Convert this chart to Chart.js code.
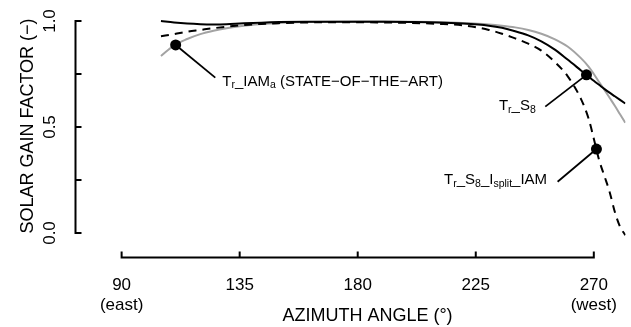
<!DOCTYPE html>
<html>
<head>
<meta charset="utf-8">
<script src="https://cdn.jsdelivr.net/npm/chart.js@4.4.0/dist/chart.umd.min.js"></script>
<style>
    html, body { margin: 0; padding: 0; background: #fff; }
</style>
</head>
<body>
<canvas id="chart_gain" width="631" height="327"></canvas>
<script>
// azimuth angle (deg) and the three solar gain factor curves
const azimuth = [105, 110, 115, 120, 125, 130, 135, 140, 145, 150, 160, 170, 180, 190, 200, 210,
    220, 230, 235, 240, 245, 250, 255, 260, 265, 268, 270, 272, 274, 276, 278, 280, 282];
const trIamA = [0.835, 0.885, 0.915, 0.938, 0.954, 0.966, 0.975, 0.982, 0.987, 0.991, 0.995, 0.997, 0.998, 0.998, 0.997, 0.995,
    0.991, 0.984, 0.978, 0.970, 0.958, 0.940, 0.915, 0.880, 0.826, 0.785, 0.750, 0.712, 0.676, 0.638, 0.600, 0.560, 0.520];
const trS8 = [1.000, 0.993, 0.988, 0.985, 0.984, 0.985, 0.988, 0.991, 0.993, 0.995, 0.996, 0.996, 0.996, 0.996, 0.995, 0.993,
    0.988, 0.978, 0.968, 0.952, 0.932, 0.904, 0.866, 0.818, 0.768, 0.738, 0.718, 0.699, 0.680, 0.662, 0.645, 0.628, 0.611];
const trS8Split = [0.928, 0.938, 0.950, 0.958, 0.966, 0.973, 0.979, 0.984, 0.987, 0.990, 0.993, 0.994, 0.994, 0.993, 0.991, 0.987,
    0.980, 0.958, 0.940, 0.918, 0.893, 0.860, 0.808, 0.740, 0.635, 0.540, 0.445, 0.345, 0.270, 0.195, 0.100, 0.030, -0.010];

// labelled points and where their leader lines end
const markerAz = [110.6, 267.2, 271.0];
const markerVal = [0.887, 0.746, 0.396];
const leaderAz = [125.7, 251.5, 256.2];
const leaderVal = [0.733, 0.596, 0.242];

// label texts: [text, subscript?]
const markerLabels = [
    [['T', 0], ['r', 1], ['_IAM', 0], ['a', 1], [' (STATE\u2212OF\u2212THE\u2212ART)', 0]],
    [['T', 0], ['r', 1], ['_S', 0], ['8', 1]],
    [['T', 0], ['r', 1], ['_S', 0], ['8', 1], ['_I', 0], ['split', 1], ['_IAM', 0]]
];

const xTicks = [90, 135, 180, 225, 270];
const xTickLabels = ['90', '135', '180', '225', '270'];
const xTickNotes = ['(east)', '', '', '', '(west)'];
const yTicks = [0, 0.25, 0.5, 0.75, 1.0];
const yTickLabels = ['0.0', '', '0.5', '', '1.0'];

const FONT = "'Liberation Sans', Arial, Helvetica, sans-serif";
const GREY = '#a3a3a3';

function pts(ys) {
    return azimuth.map((a, i) => ({x: a, y: ys[i]}));
}

// where each label sits relative to its leader end (px)
const labelStyle = [
    {align: 'left', dx: 7, dy: 8},
    {align: 'right', dx: -9.5, dy: 3.5},
    {align: 'right', dx: -10.5, dy: 2.5}
];

function drawParts(ctx, parts, x, y, align, size) {
    let w = 0;
    parts.forEach(p => {
        ctx.font = (p[1] ? size * 0.7 : size) + 'px ' + FONT;
        w += ctx.measureText(p[0]).width;
    });
    let cx = align === 'right' ? x - w : x;
    parts.forEach(p => {
        ctx.font = (p[1] ? size * 0.7 : size) + 'px ' + FONT;
        ctx.fillText(p[0], cx, p[1] ? y + size * 0.18 : y);
        cx += ctx.measureText(p[0]).width;
    });
}

const annotate = {
    id: 'annotate',
    afterDatasetsDraw(chart) {
        const ctx = chart.ctx, xs = chart.scales.x, ys = chart.scales.y;
        ctx.save();
        ctx.strokeStyle = '#000';
        ctx.fillStyle = '#000';
        ctx.lineWidth = 1.8;
        ctx.textBaseline = 'alphabetic';
        ctx.textAlign = 'left';
        markerAz.forEach((a, i) => {
            const mx = xs.getPixelForValue(a), my = ys.getPixelForValue(markerVal[i]);
            const lx = xs.getPixelForValue(leaderAz[i]), ly = ys.getPixelForValue(leaderVal[i]);
            ctx.beginPath();
            ctx.moveTo(mx, my);
            ctx.lineTo(lx, ly);
            ctx.stroke();
            const s = labelStyle[i];
            drawParts(ctx, markerLabels[i], lx + s.dx, ly + s.dy, s.align, 15);
        });
        ctx.restore();
    }
};

// R style detached axes
const axesR = {
    id: 'axesR',
    afterDraw(chart) {
        const ctx = chart.ctx, xs = chart.scales.x, ys = chart.scales.y;
        const axY = 257.5, axX = 75.5, tick = 6;
        ctx.save();
        ctx.strokeStyle = '#000';
        ctx.fillStyle = '#000';
        ctx.lineWidth = 2;

        ctx.beginPath();
        ctx.moveTo(xs.getPixelForValue(xTicks[0]), axY);
        ctx.lineTo(xs.getPixelForValue(xTicks[xTicks.length - 1]), axY);
        xTicks.forEach(v => {
            const px = xs.getPixelForValue(v);
            ctx.moveTo(px, axY + 1);
            ctx.lineTo(px, axY - tick);
        });
        ctx.moveTo(axX, ys.getPixelForValue(yTicks[0]));
        ctx.lineTo(axX, ys.getPixelForValue(yTicks[yTicks.length - 1]));
        yTicks.forEach(v => {
            const py = ys.getPixelForValue(v);
            ctx.moveTo(axX - 1, py);
            ctx.lineTo(axX + tick, py);
        });
        ctx.stroke();

        ctx.textAlign = 'center';
        ctx.textBaseline = 'alphabetic';
        ctx.font = '17px ' + FONT;
        xTicks.forEach((v, i) => {
            const px = xs.getPixelForValue(v);
            ctx.fillText(xTickLabels[i], px, 290);
            if (xTickNotes[i]) ctx.fillText(xTickNotes[i], px, 309.5);
        });
        ctx.font = '18px ' + FONT;
        ctx.fillText('AZIMUTH ANGLE (\u00b0)', 367.5, 320.5);

        yTicks.forEach((v, i) => {
            if (!yTickLabels[i]) return;
            ctx.save();
            ctx.translate(55, ys.getPixelForValue(v));
            ctx.rotate(-Math.PI / 2);
            ctx.font = '17px ' + FONT;
            ctx.fillText(yTickLabels[i], 0, 0);
            ctx.restore();
        });
        ctx.save();
        ctx.translate(32.5, 126);
        ctx.rotate(-Math.PI / 2);
        ctx.font = '18px ' + FONT;
        ctx.fillText('SOLAR GAIN FACTOR (\u2212)', 0, 0);
        ctx.restore();
        ctx.restore();
    }
};

let ctx_gain = document.getElementById("chart_gain");
let chart_gain = new Chart(ctx_gain, {
    type: 'line',
    data: {
        datasets: [{
            label: 'markers',
            data: markerAz.map((a, i) => ({x: a, y: markerVal[i]})),
            showLine: false,
            pointRadius: 5.5,
            pointBackgroundColor: '#000',
            pointBorderColor: '#000',
            pointBorderWidth: 0
        }, {
            label: 'Tr_S8',
            data: pts(trS8),
            borderColor: '#000',
            borderWidth: 2,
            pointRadius: 0,
            cubicInterpolationMode: 'monotone'
        }, {
            label: 'Tr_S8_Isplit_IAM',
            data: pts(trS8Split),
            borderColor: '#000',
            borderWidth: 2,
            borderDash: [8, 6],
            pointRadius: 0,
            cubicInterpolationMode: 'monotone'
        }, {
            label: 'Tr_IAMa',
            data: pts(trIamA),
            borderColor: GREY,
            borderWidth: 2,
            pointRadius: 0,
            cubicInterpolationMode: 'monotone'
        }]
    },
    options: {
        responsive: false,
        animation: false,
        devicePixelRatio: 1,
        layout: {
            padding: {left: 85, right: 0, top: 11, bottom: 86}
        },
        scales: {
            x: {type: 'linear', min: 76.04, max: 282.08, display: false},
            y: {type: 'linear', min: -0.0377, max: 1.0472, display: false}
        },
        plugins: {
            legend: {display: false},
            tooltip: {enabled: false}
        }
    },
    plugins: [annotate, axesR]
});
</script>
</body>
</html>
